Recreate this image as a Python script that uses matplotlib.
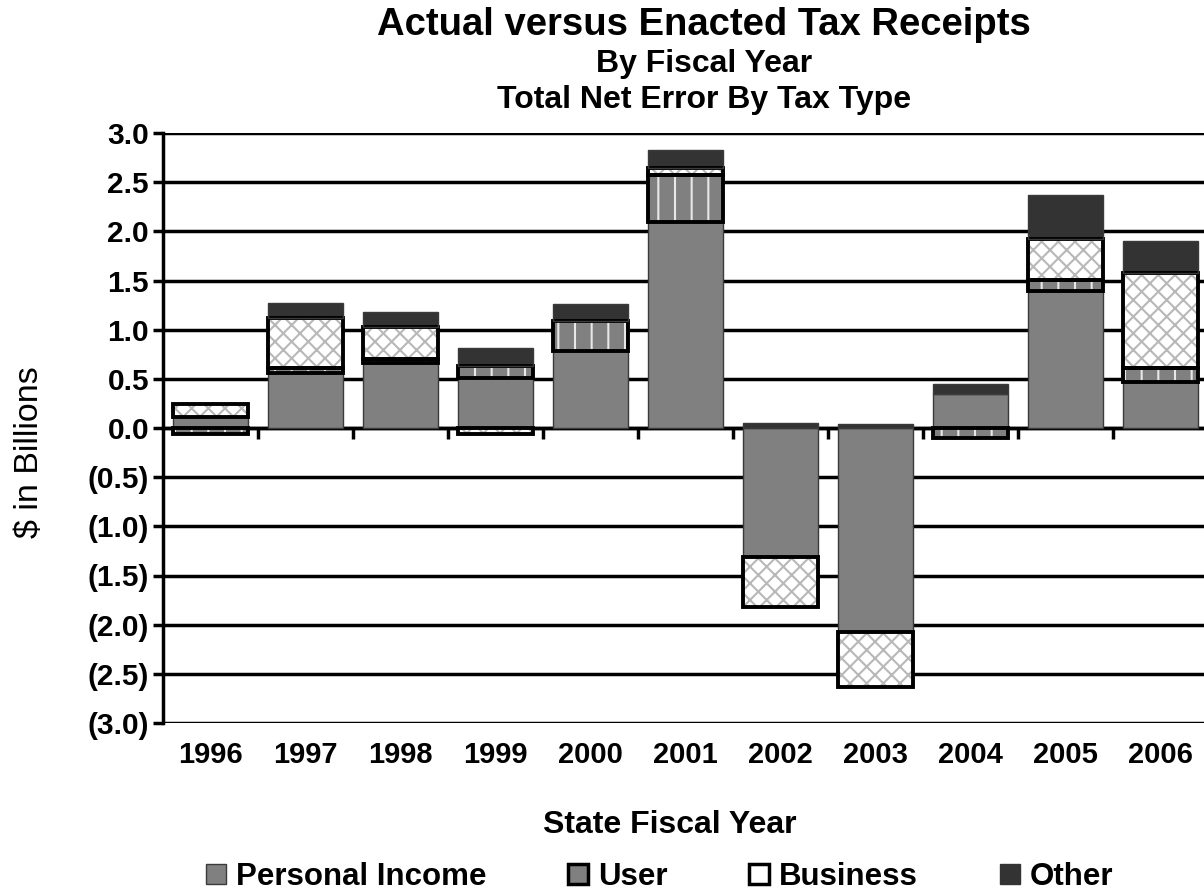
import numpy as np
import matplotlib
matplotlib.use('Agg')
import matplotlib.pyplot as plt
import matplotlib.transforms as mtransforms
from matplotlib.patches import Patch
from matplotlib.ticker import FuncFormatter

plt.rcParams['font.family'] = ['Liberation Sans', 'DejaVu Sans']
plt.rcParams['hatch.linewidth'] = 1.5

# Values ($ billions)
years = ['1996', '1997', '1998', '1999', '2000', '2001', '2002', '2003', '2004', '2005', '2006']
personal = [0.11, 0.56, 0.66, 0.51, 0.78, 2.10, -1.31, -2.07, 0.35, 1.39, 0.47]
user = [-0.06, 0.05, 0.04, 0.12, 0.31, 0.47, 0.0, 0.0, -0.10, 0.12, 0.14]
business = [0.13, 0.51, 0.33, -0.06, 0.0, 0.07, -0.51, -0.56, 0.0, 0.41, 0.97]
other = [0.0, 0.15, 0.15, 0.18, 0.17, 0.19, 0.05, 0.04, 0.10, 0.45, 0.32]

series = [
    # name, values, face, hatch, hatch colour, outline width
    ('Personal Income', personal, '#808080', None, '#808080', 0),
    ('User', user, '#808080', '|', '#e8e8e8', 2.8),
    ('Business', business, 'white', 'xx', '#b8b8b8', 2.8),
    ('Other', other, '#333333', None, '#333333', 0),
]


def paren_fmt(v, pos):
    if v < -1e-9:
        return f'({abs(v):.1f})'
    return f'{abs(v):.1f}'


fig = plt.figure(figsize=(12.04, 8.94), dpi=100)
ax = fig.add_axes([163 / 1204, 1 - 723 / 894, 1045 / 1204, 590 / 894])

x = np.arange(len(years))
width = 0.79
pos_base = np.zeros(len(years))
neg_base = np.zeros(len(years))

for name, vals, face, hatch, hcol, lw in series:
    vals = np.array(vals)
    bottoms = np.where(vals >= 0, pos_base, neg_base)
    keep = vals != 0
    ax.bar(x[keep], vals[keep], width, bottom=bottoms[keep], color=face,
           hatch=hatch, edgecolor=hcol, linewidth=0, zorder=2)
    if lw:
        ax.bar(x[keep], vals[keep], width, bottom=bottoms[keep], fill=False,
               edgecolor='black', linewidth=lw, zorder=3)
    else:
        ax.bar(x[keep], vals[keep], width, bottom=bottoms[keep], fill=False,
               edgecolor='#3a3a3a', linewidth=1, zorder=3)
    pos_base = pos_base + np.where(vals > 0, vals, 0)
    neg_base = neg_base + np.where(vals < 0, vals, 0)

ax.set_xlim(-0.5, len(years) - 0.5)
ax.set_ylim(-3.0, 3.0)
ax.set_yticks(np.arange(-3.0, 3.01, 0.5))
ax.yaxis.set_major_formatter(FuncFormatter(paren_fmt))
ax.yaxis.grid(True, color='black', linewidth=2.5)
ax.set_axisbelow(True)

for s in ['top', 'right']:
    ax.spines[s].set_visible(False)
ax.spines['left'].set_linewidth(2.5)
ax.spines['bottom'].set_position(('data', 0))
ax.spines['bottom'].set_linewidth(2.5)
ax.spines['bottom'].set_zorder(1.5)

ax.set_xticks(np.arange(0.5, len(years) - 0.5, 1))
ax.set_xticklabels([])
ax.tick_params(axis='x', direction='out', length=8, width=2.5)
ax.tick_params(axis='y', direction='out', length=7, width=2.5, labelsize=21.5, pad=3)
for lab in ax.get_yticklabels():
    lab.set_fontweight('bold')

trans = mtransforms.blended_transform_factory(ax.transData, ax.transAxes)
for i, yr in enumerate(years):
    ax.text(i, -0.054, yr, transform=trans, ha='center', va='center',
            fontsize=21, fontweight='bold')

fig.text(704 / 1204, 1 - 25 / 894, 'Actual versus Enacted Tax Receipts',
         ha='center', va='center', fontsize=27.5, fontweight='bold')
fig.text(704 / 1204, 1 - 64 / 894, 'By Fiscal Year',
         ha='center', va='center', fontsize=23, fontweight='bold')
fig.text(704 / 1204, 1 - 100 / 894, 'Total Net Error By Tax Type',
         ha='center', va='center', fontsize=23, fontweight='bold')

fig.text(670 / 1204, 1 - 825 / 894, 'State Fiscal Year',
         ha='center', va='center', fontsize=23, fontweight='bold')
fig.text(30 / 1204, 1 - 452 / 894, '$ in Billions', rotation=90,
         ha='center', va='center', fontsize=24.5)

handles = [
    Patch(facecolor='#808080', edgecolor='#3a3a3a', linewidth=1),
    Patch(facecolor='#808080', edgecolor='black', linewidth=2.5),
    Patch(facecolor='white', edgecolor='black', linewidth=2.5),
    Patch(facecolor='#333333', edgecolor='#333333', linewidth=1),
]
labels = [s[0] for s in series]
legend_x = [206, 568, 749, 1000]
for h, lab, lx in zip(handles, labels, legend_x):
    leg = fig.legend([h], [lab], loc='center left',
                     bbox_to_anchor=(lx / 1204, 1 - 877 / 894),
                     frameon=False, prop={'size': 22.5, 'weight': 'bold'},
                     handlelength=0.65, handleheight=0.65, handletextpad=0.3,
                     borderpad=0, borderaxespad=0)

fig.savefig('out.png', dpi=100)
